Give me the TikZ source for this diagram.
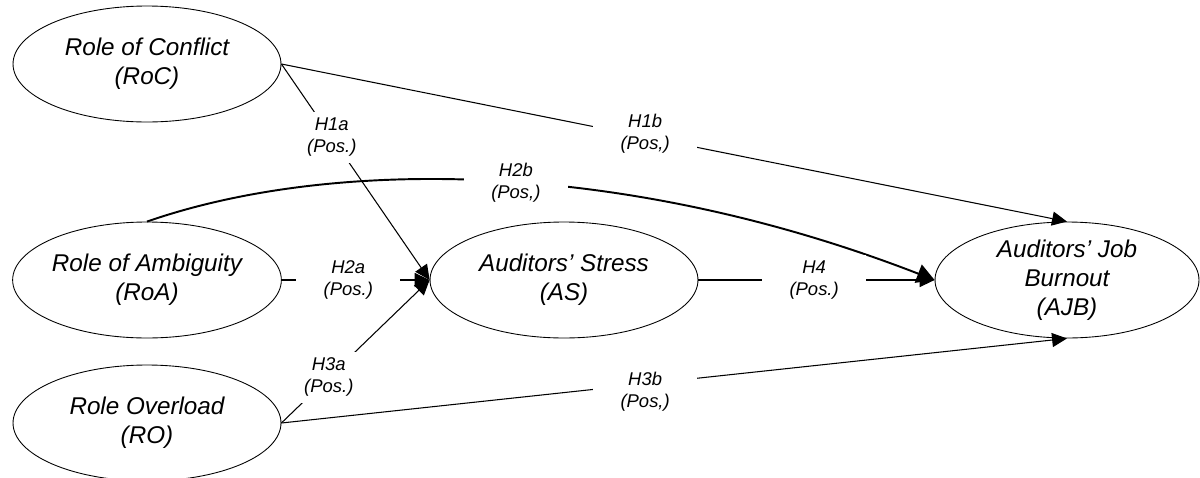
\documentclass[tikz,border=0pt]{standalone}
\usepackage{fontspec}
\setmainfont{Liberation Sans}
\usetikzlibrary{arrows.meta,shapes.geometric}
\begin{document}
\begin{tikzpicture}[x=0.02cm,y=-0.02cm,
  construct/.style={ellipse,draw,line width=0.5pt,inner sep=0pt,
    minimum width=5.36cm,minimum height=2.32cm,align=center,
    font=\fontsize{13.8}{16.5}\selectfont\itshape},
  lab/.style={fill=white,inner sep=0pt,minimum width=2.08cm,minimum height=1.02cm,
    align=center,font=\fontsize{10.5}{12.5}\selectfont\itshape},
  link/.style={line width=0.6pt,-{Triangle[length=8.5pt,width=8pt]}},
  thicklink/.style={line width=1.1pt,-{Triangle[length=10pt,width=11pt]}}
]
\useasboundingbox (0,0) rectangle (1200,477);

\node[construct] (RoC) at (147,64) {Role of Conflict\\(RoC)};
\node[construct] (RoA) at (147,280) {Role of Ambiguity\\(RoA)};
\node[construct] (RO) at (147,423) {Role Overload\\(RO)};
\node[construct] (AS) at (564,280) {Auditors' Stress\\(AS)};
\node[construct,minimum width=5.28cm] (AJB) at (1067,280) {Auditors' Job\\Burnout\\(AJB)};

\draw[link] (RoC.east) -- node[lab,pos=0.34]{H1a\\(Pos.)} (AS.west);
\draw[link] (RoC.east) -- node[lab,pos=0.463,yshift=2pt]{H1b\\(Pos,)} (AJB.north);
\draw[link] (RoA.east) -- node[lab,pos=0.45]{H2a\\(Pos.)} (AS.west);
\draw[thicklink] (RoA.north) .. controls (330,158) and (620,158) .. node[lab,pos=0.53]{H2b\\(Pos,)} (AJB.west);
\draw[link] (AS.east) -- node[lab,pos=0.49]{H4\\(Pos.)} (AJB.west);
\draw[link] (RO.east) -- node[lab,pos=0.32]{H3a\\(Pos.)} (AS.west);
\draw[link] (RO.east) -- node[lab,pos=0.463,yshift=-4.5pt]{H3b\\(Pos,)} (AJB.south);
\end{tikzpicture}
\end{document}
